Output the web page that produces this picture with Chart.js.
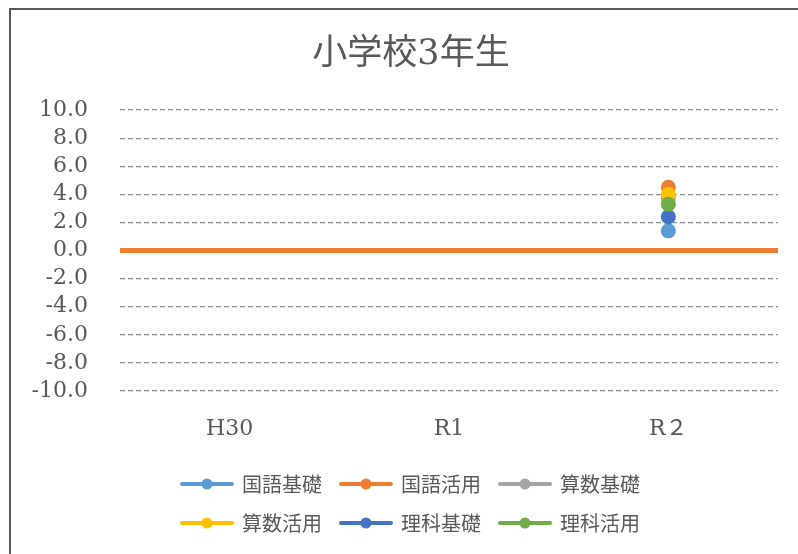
<!DOCTYPE html>
<html>
<head>
<meta charset="utf-8">
<script src="https://cdn.jsdelivr.net/npm/chart.js@4.4.1/dist/chart.umd.min.js"></script>
<style>
  html, body { margin: 0; padding: 0; background: #ffffff; }
  #wrap { position: relative; width: 798px; height: 554px; overflow: hidden; }
  #c { position: absolute; left: 0; top: 0; }
  #frame { position: absolute; left: 9px; top: 8px; width: 820px; height: 580px;
           border-left: 2px solid #595959; border-top: 2px solid #595959; pointer-events: none; }
</style>
</head>
<body>
<div id="wrap">
  <canvas id="c" width="798" height="554"></canvas>
  <div id="frame"></div>
</div>
<script>
// ---- data ----
const chartTitle = '小学校3年生';
const categories = ['H30', 'R1', 'R２'];
const seriesNames = ['国語基礎', '国語活用', '算数基礎', '算数活用', '理科基礎', '理科活用'];
const kokugoKiso  = [null, null, 1.4];
const kokugoKatsu = [null, null, 4.5];
const sansuKiso   = [null, null, 3.7];
const sansuKatsu  = [null, null, 4.0];
const rikaKiso    = [null, null, 2.4];
const rikaKatsu   = [null, null, 3.3];
const seriesColors = ['#5B9BD5', '#ED7D31', '#A5A5A5', '#FFC000', '#4472C4', '#70AD47'];
const yMin = -10, yMax = 10, yStep = 2;

const seriesValues = [kokugoKiso, kokugoKatsu, sansuKiso, sansuKatsu, rikaKiso, rikaKatsu];

// wrap legend rows after three items, like the original
if (Chart.Legend && Chart.Legend._element) {
  const LegendEl = Chart.Legend._element;
  const origFit = LegendEl.prototype.fit;
  LegendEl.prototype.fit = function () {
    const mw = this.maxWidth;
    this.maxWidth = Math.min(mw, 520);
    origFit.call(this);
    this.maxWidth = mw;
  };
}
// do not clip the value-axis labels to the axis box
if (Chart.LinearScale && Chart.LinearScale.prototype._computeLabelArea) {
  Chart.LinearScale.prototype._computeLabelArea = function () { return undefined; };
}

function legendSymbol(color) {
  const cv = document.createElement('canvas');
  cv.width = 56; cv.height = 14;
  const g = cv.getContext('2d');
  g.strokeStyle = color; g.lineWidth = 4; g.lineCap = 'round';
  g.beginPath(); g.moveTo(3, 7); g.lineTo(53, 7); g.stroke();
  g.fillStyle = color;
  g.beginPath(); g.arc(28, 7, 5.5, 0, Math.PI * 2); g.fill();
  return cv;
}
const symbols = seriesColors.map(legendSymbol);

const datasets = seriesNames.map((name, i) => ({
  label: name,
  data: seriesValues[i],
  borderColor: seriesColors[i],
  backgroundColor: seriesColors[i],
  borderWidth: 4,
  pointRadius: 7.5,
  pointHoverRadius: 7.5,
  pointBorderWidth: 0,
  showLine: true,
  spanGaps: false,
  order: seriesNames.length - i
}));

const serif = '"DejaVu Serif", "Liberation Serif", "Noto Sans CJK JP", serif';
const sans = '"Noto Sans CJK JP", "Noto Sans", sans-serif';
const textColor = '#595959';

new Chart(document.getElementById('c'), {
  type: 'line',
  data: { labels: categories, datasets },
  options: {
    responsive: false,
    animation: false,
    layout: { padding: { left: 44, right: 20, top: 0, bottom: 11 } },
    plugins: {
      title: {
        display: true,
        text: chartTitle,
        color: textColor,
        font: { family: serif, size: 35, weight: 'normal' },
        padding: { top: 34, bottom: 34 }
      },
      legend: {
        position: 'bottom',
        labels: {
          color: textColor,
          font: { family: sans, size: 20 },
          usePointStyle: true,
          pointStyleWidth: 50,
          padding: 19,
          generateLabels: (chart) => chart.data.datasets.map((ds, i) => ({
            text: ds.label,
            fillStyle: ds.borderColor,
            strokeStyle: ds.borderColor,
            fontColor: textColor,
            lineWidth: 0,
            pointStyle: symbols[i],
            hidden: false,
            datasetIndex: i
          }))
        }
      },
      tooltip: { enabled: false }
    },
    scales: {
      x: {
        offset: true,
        grid: { display: false, drawTicks: false },
        border: { display: false },
        ticks: { color: textColor, font: { family: serif, size: 22 }, padding: 25, autoSkip: false, maxRotation: 0 },
        afterFit: (s) => { s.height = 64; }
      },
      y: {
        min: yMin, max: yMax,
        grid: {
          drawTicks: false,
          color: (ctx) => (ctx.tick && ctx.tick.value === 0) ? '#ED7D31' : '#8C8C8C',
          lineWidth: (ctx) => (ctx.tick && ctx.tick.value === 0) ? 5 : 1.2
        },
        border: {
          display: false,
          dash: (ctx) => (ctx.tick && ctx.tick.value === 0) ? [] : [5, 3]
        },
        ticks: {
          stepSize: yStep,
          autoSkip: false,
          color: textColor,
          font: { family: serif, size: 22 },
          padding: 32,
          callback: (v) => Number(v).toFixed(1)
        },
        afterFit: (s) => { s.width = 76; }
      }
    }
  }
});
</script>
</body>
</html>
